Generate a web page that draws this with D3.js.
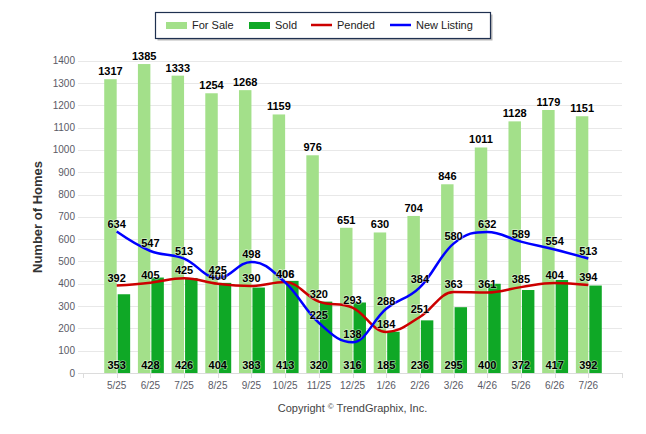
<!DOCTYPE html>
<html>
<head>
<meta charset="utf-8">
<script src="https://cdn.jsdelivr.net/npm/d3@7"></script>
<style>
  body { margin: 0; background: #fff; }
  svg { display: block; font-family: "Liberation Sans", Arial, sans-serif; }
</style>
</head>
<body>
<svg id="chart" width="646" height="434"></svg>
<script>
const months = ['5/25', '6/25', '7/25', '8/25', '9/25', '10/25', '11/25', '12/25', '1/26', '2/26', '3/26', '4/26', '5/26', '6/26', '7/26'];
const forSale = [1317, 1385, 1333, 1254, 1268, 1159, 976, 651, 630, 704, 846, 1011, 1128, 1179, 1151];
const sold = [353, 428, 426, 404, 383, 413, 320, 316, 185, 236, 295, 400, 372, 417, 392];
const pended = [392, 405, 425, 400, 390, 408, 320, 293, 184, 251, 363, 361, 385, 404, 394];
const newListing = [634, 547, 513, 425, 498, 406, 225, 138, 288, 384, 580, 632, 589, 554, 513];
const yTicks = d3.range(0, 1401, 100);

const COLORS = { forSale: '#a3e08a', sold: '#0fa826', pended: '#cc0000', newListing: '#0000ff' };

const svg = d3.select('#chart');
const plotLeft = 83, plotRight = 622, plotTop = 60.7, plotBottom = 373;

// categories sit on 0..14, axis runs one slot wider each side
const x = d3.scaleLinear().domain([-1, 15]).range([plotLeft, plotRight]);
const y = d3.scaleLinear().domain([0, 1400]).range([plotBottom, plotTop]);
const step = x(1) - x(0);
const barW = step * 0.37;

// grid
svg.append('g').selectAll('line').data(yTicks).join('line')
    .attr('x1', 78).attr('x2', plotRight)
    .attr('y1', d => Math.round(y(d)) + 0.5).attr('y2', d => Math.round(y(d)) + 0.5)
    .attr('stroke', d => d === 0 ? '#dcdcdc' : '#e8e8e8');

svg.append('g').selectAll('text').data(yTicks).join('text')
    .attr('x', 75).attr('y', d => y(d)).attr('dy', '0.35em')
    .attr('text-anchor', 'end').attr('font-size', 10).attr('fill', '#5a5a66')
    .text(d => d);

// x axis ticks + labels
svg.append('g').selectAll('line').data(d3.range(-1, 16)).join('line')
    .attr('x1', d => Math.round(x(d)) + 0.5).attr('x2', d => Math.round(x(d)) + 0.5)
    .attr('y1', plotBottom).attr('y2', plotBottom + 5)
    .attr('stroke', '#dcdcdc');

svg.append('g').selectAll('text').data(months).join('text')
    .attr('x', (d, i) => x(i)).attr('y', 389)
    .attr('text-anchor', 'middle').attr('font-size', 10).attr('fill', '#5a5a66')
    .text(d => d);

// bars
svg.append('g').selectAll('rect').data(forSale).join('rect')
    .attr('x', (d, i) => x(i) - barW).attr('width', barW)
    .attr('y', d => y(d)).attr('height', d => plotBottom - y(d))
    .attr('fill', COLORS.forSale);

svg.append('g').selectAll('rect').data(sold).join('rect')
    .attr('x', (d, i) => x(i) + 1).attr('width', barW)
    .attr('y', d => y(d)).attr('height', d => plotBottom - y(d))
    .attr('fill', COLORS.sold);

// Highcharts-style spline
function splinePath(vals) {
    const pts = vals.map((v, i) => [x(i), y(v)]);
    const conts = pts.map((p, i) => {
        if (i === 0 || i === pts.length - 1) return null;
        const [px, py] = p, [lx, ly] = pts[i - 1], [nx, ny] = pts[i + 1];
        let lcx = (1.5 * px + lx) / 2.5, lcy = (1.5 * py + ly) / 2.5;
        let rcx = (1.5 * px + nx) / 2.5, rcy = (1.5 * py + ny) / 2.5;
        const corr = ((rcy - lcy) * (rcx - px)) / (rcx - lcx) + py - rcy;
        lcy += corr; rcy += corr;
        if (lcy > ly && lcy > py) { lcy = Math.max(ly, py); rcy = 2 * py - lcy; }
        else if (lcy < ly && lcy < py) { lcy = Math.min(ly, py); rcy = 2 * py - lcy; }
        if (rcy > ny && rcy > py) { rcy = Math.max(ny, py); lcy = 2 * py - rcy; }
        else if (rcy < ny && rcy < py) { rcy = Math.min(ny, py); lcy = 2 * py - rcy; }
        return { lcx, lcy, rcx, rcy };
    });
    const p = d3.path();
    p.moveTo(pts[0][0], pts[0][1]);
    for (let i = 1; i < pts.length; i++) {
        const a = conts[i - 1], b = conts[i];
        p.bezierCurveTo(
            a ? a.rcx : pts[i - 1][0], a ? a.rcy : pts[i - 1][1],
            b ? b.lcx : pts[i][0], b ? b.lcy : pts[i][1],
            pts[i][0], pts[i][1]);
    }
    return p.toString();
}

svg.append('path').attr('d', splinePath(pended))
    .attr('fill', 'none').attr('stroke', COLORS.pended).attr('stroke-width', 2.5);
svg.append('path').attr('d', splinePath(newListing))
    .attr('fill', 'none').attr('stroke', COLORS.newListing).attr('stroke-width', 2.5);

// data labels
function labels(vals, fx, fy) {
    svg.append('g').selectAll('text').data(vals).join('text')
        .attr('x', fx).attr('y', fy)
        .attr('text-anchor', 'middle').attr('font-size', 11).attr('font-weight', 'bold')
        .attr('fill', '#000').attr('stroke', '#fff').attr('stroke-width', 1.5)
        .attr('stroke-opacity', 0.45).attr('paint-order', 'stroke')
        .text(d => d);
}
labels(forSale, (d, i) => x(i) - barW / 2, d => y(d) - 4);
labels(pended, (d, i) => x(i), d => y(d) - 4);
labels(newListing, (d, i) => x(i), d => y(d) - 4);
labels(sold, (d, i) => x(i), 369);

// y axis title
svg.append('text')
    .attr('transform', 'translate(42,217) rotate(-90)')
    .attr('text-anchor', 'middle').attr('font-size', 13).attr('font-weight', 'bold')
    .attr('fill', '#333')
    .text('Number of Homes');

// copyright
const copy = svg.append('text')
    .attr('x', (plotLeft + plotRight) / 2).attr('y', 412)
    .attr('text-anchor', 'middle').attr('font-size', 11).attr('fill', '#444');
copy.append('tspan').text('Copyright ');
copy.append('tspan').attr('font-size', 8).attr('dy', -3).text('©');
copy.append('tspan').attr('dy', 3).text(' TrendGraphix, Inc.');

// legend
const legend = svg.append('g');
legend.append('rect').attr('x', 157.5).attr('y', 14.5).attr('width', 335).attr('height', 26)
    .attr('fill', '#888').attr('opacity', 0.6);
legend.append('rect').attr('x', 155.5).attr('y', 12.5).attr('width', 335).attr('height', 26)
    .attr('fill', '#fff').attr('stroke', '#1f3050').attr('stroke-width', 1.2);

const legendItems = [
    { name: 'For Sale', color: COLORS.forSale, type: 'bar', x: 166 },
    { name: 'Sold', color: COLORS.sold, type: 'bar', x: 249 },
    { name: 'Pended', color: COLORS.pended, type: 'line', x: 311 },
    { name: 'New Listing', color: COLORS.newListing, type: 'line', x: 390 }
];
legendItems.forEach(item => {
    if (item.type === 'bar') {
        legend.append('rect').attr('x', item.x).attr('y', 22).attr('width', 21).attr('height', 7)
            .attr('fill', item.color);
    } else {
        legend.append('line').attr('x1', item.x).attr('x2', item.x + 21)
            .attr('y1', 25).attr('y2', 25)
            .attr('stroke', item.color).attr('stroke-width', 2.5);
    }
    legend.append('text').attr('x', item.x + 26).attr('y', 29)
        .attr('font-size', 11).attr('fill', '#222').text(item.name);
});
</script>
</body>
</html>
